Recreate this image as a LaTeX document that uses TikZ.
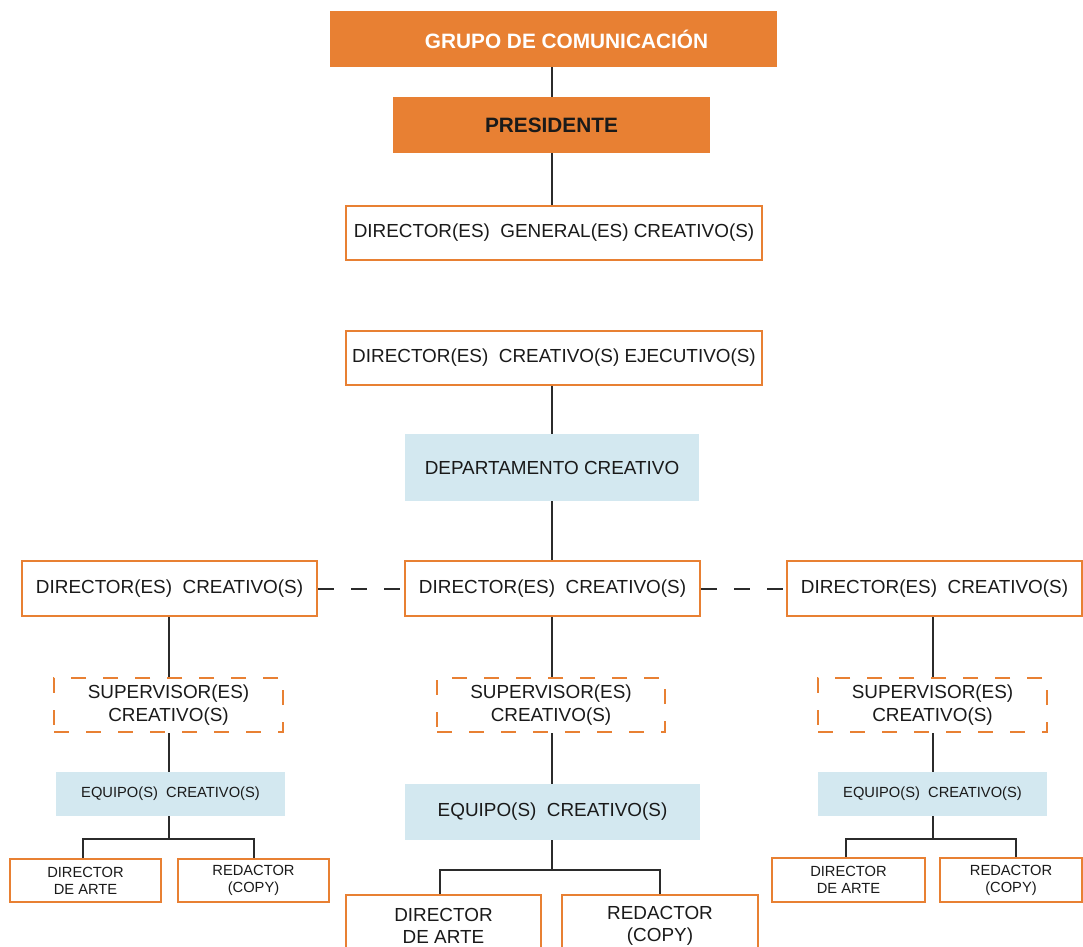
\documentclass[tikz,border=0pt]{standalone}
\usepackage{fontspec}
\setmainfont{Liberation Sans}
\definecolor{orng}{HTML}{E88033}
\definecolor{lblue}{HTML}{D3E8F0}
\definecolor{lnk}{HTML}{2B2B2B}
\definecolor{txt}{HTML}{1A1A1A}
\tikzset{
  base/.style={rectangle, inner sep=0pt, align=center, text=txt,
    font=\fontsize{18.9}{22.5}\selectfont},
  small/.style={font=\fontsize{14.7}{17}\selectfont},
  fillbox/.style={base, fill=orng, font=\fontsize{20.8}{24}\selectfont\bfseries},
  obox/.style={base, draw=orng, line width=2.5pt, fill=white},
  dbox/.style={base, draw=orng, line width=2.5pt, dash pattern=on 15pt off 17pt, fill=white},
  bbox/.style={base, fill=lblue},
  conn/.style={draw=lnk, line width=2pt},
  dconn/.style={draw=lnk, line width=2pt, dash pattern=on 16pt off 17pt},
}
\begin{document}
\begin{tikzpicture}[x=1pt, y=-1pt]
\useasboundingbox (0,0) rectangle (1083,946);
\fill[white] (0,0) rectangle (1083,946);

\node[fillbox, text=white, minimum width=447pt, minimum height=56pt] (grupo) at (553.5,39) {\hspace*{26pt}GRUPO DE COMUNICACIÓN};
\node[fillbox, text=txt, minimum width=317pt, minimum height=56pt] (pres) at (551.5,125) {PRESIDENTE};
\node[obox, minimum width=416pt, minimum height=54pt] (dg) at (554,233) {DIRECTOR(ES)\ \ GENERAL(ES) CREATIVO(S)};
\node[obox, minimum width=416pt, minimum height=54pt] (dce) at (554,358) {DIRECTOR(ES)\ \ CREATIVO(S) EJECUTIVO(S)};
\node[bbox, minimum width=294pt, minimum height=67pt] (dep) at (552,467.5) {DEPARTAMENTO CREATIVO};

\node[obox, minimum width=295pt, minimum height=55pt] (dcL) at (169.5,588.5) {DIRECTOR(ES)\ \ CREATIVO(S)};
\node[obox, minimum width=295pt, minimum height=55pt] (dcM) at (552.5,588.5) {DIRECTOR(ES)\ \ CREATIVO(S)};
\node[obox, minimum width=295pt, minimum height=55pt] (dcR) at (934.5,588.5) {DIRECTOR(ES)\ \ CREATIVO(S)};

\node[dbox, minimum width=229pt, minimum height=54pt] (supL) at (168.5,705) {SUPERVISOR(ES)\\CREATIVO(S)};
\node[dbox, minimum width=228pt, minimum height=54pt] (supM) at (551,705) {SUPERVISOR(ES)\\CREATIVO(S)};
\node[dbox, minimum width=229pt, minimum height=54pt] (supR) at (932.5,705) {SUPERVISOR(ES)\\CREATIVO(S)};

\node[bbox, small, minimum width=229pt, minimum height=44pt] (eqL) at (170.5,794) {EQUIPO(S)\ \ CREATIVO(S)};
\node[bbox, minimum width=295pt, minimum height=56pt] (eqM) at (552.5,812) {EQUIPO(S)\ \ CREATIVO(S)};
\node[bbox, small, minimum width=229pt, minimum height=44pt] (eqR) at (932.5,794) {EQUIPO(S)\ \ CREATIVO(S)};

\node[obox, small, minimum width=151pt, minimum height=43pt] (daL) at (85.5,880.5) {DIRECTOR\\DE ARTE};
\node[obox, small, minimum width=151pt, minimum height=43pt] (reL) at (253.5,880.5) {REDACTOR\\(COPY)};
\node[obox, minimum width=195pt, minimum height=62pt] (daM) at (443.5,926) {DIRECTOR\\DE ARTE};
\node[obox, minimum width=196pt, minimum height=62pt] (reM) at (660,926) {REDACTOR\\(COPY)};
\node[obox, small, minimum width=153pt, minimum height=44pt] (daR) at (848.5,880) {DIRECTOR\\DE ARTE};
\node[obox, small, minimum width=142pt, minimum height=44pt] (reR) at (1011,880) {REDACTOR\\(COPY)};

\coordinate (colL) at (169,0);
\coordinate (colM) at (552,0);
\coordinate (colR) at (933,0);
\coordinate (brL) at (169,839);
\coordinate (brM) at (552,870);
\coordinate (brR) at (933,839);

\draw[conn] (grupo.south -| colM) -- (pres.north -| colM);
\draw[conn] (pres.south -| colM) -- (dg.north -| colM);
\draw[conn] (dce.south -| colM) -- (dep.north -| colM);
\draw[conn] (dep.south -| colM) -- (dcM.north -| colM);

\draw[dconn] (dcL.east) -- (dcM.west);
\draw[dconn] (dcM.east) -- (dcR.west);

\draw[conn] (dcL.south -| colL) -- (supL.north -| colL);
\draw[conn] (dcM.south -| colM) -- (supM.north -| colM);
\draw[conn] (dcR.south -| colR) -- (supR.north -| colR);
\draw[conn] (supL.south -| colL) -- (eqL.north -| colL);
\draw[conn] (supM.south -| colM) -- (eqM.north -| colM);
\draw[conn] (supR.south -| colR) -- (eqR.north -| colR);

\draw[conn] (eqL.south -| brL) -- (brL);
\draw[conn] ([xshift=-3pt]daL.north) |- (brL) -| (reL.north);
\draw[conn] (eqM.south -| brM) -- (brM);
\draw[conn] ([xshift=-4pt]daM.north) |- (brM) -| (reM.north);
\draw[conn] (eqR.south -| brR) -- (brR);
\draw[conn] ([xshift=-3pt]daR.north) |- (brR) -| ([xshift=5pt]reR.north);
\end{tikzpicture}
\end{document}
